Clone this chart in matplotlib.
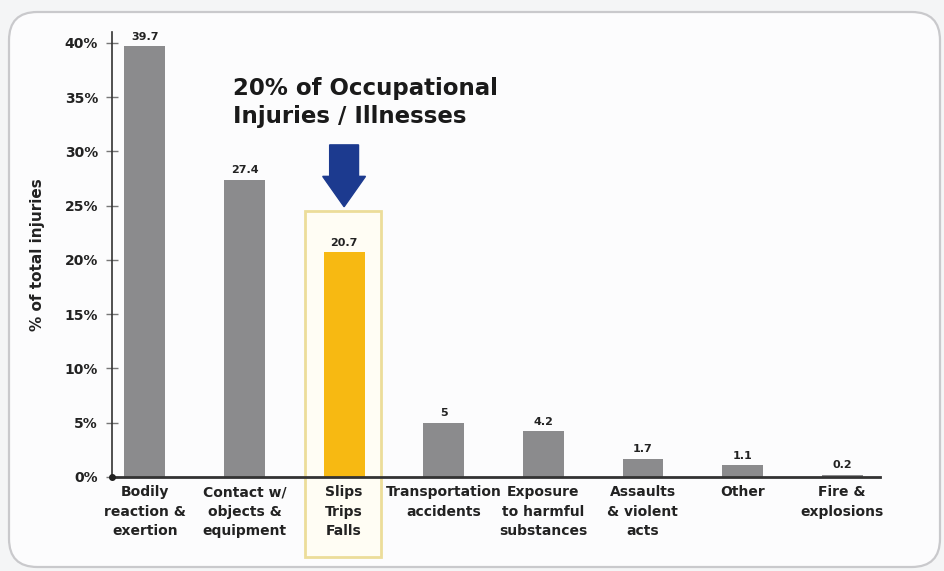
import numpy as np
import matplotlib.pyplot as plt
from matplotlib.patches import FancyBboxPatch, Rectangle, FancyArrow

categories = ["Bodily\nreaction &\nexertion", "Contact w/\nobjects &\nequipment",
              "Slips\nTrips\nFalls", "Transportation\naccidents",
              "Exposure\nto harmful\nsubstances", "Assaults\n& violent\nacts",
              "Other", "Fire &\nexplosions"]
values = [39.7, 27.4, 20.7, 5, 4.2, 1.7, 1.1, 0.2]
value_labels = ["39.7", "27.4", "20.7", "5", "4.2", "1.7", "1.1", "0.2"]
yticks = [0, 5, 10, 15, 20, 25, 30, 35, 40]
highlight = 2

FONT = ["Liberation Sans Narrow", "DejaVu Sans Condensed", "DejaVu Sans"]
plt.rcParams["font.family"] = FONT

fig = plt.figure(figsize=(9.44, 5.71), dpi=100)
fig.patch.set_facecolor("#f4f5f6")

# card background
card = FancyBboxPatch((9/944, 4/571), 931/944, 555/571,
                      boxstyle="round,pad=0,rounding_size=0.03",
                      transform=fig.transFigure, facecolor="#fcfcfd",
                      edgecolor="#c9c9cc", linewidth=1.6, zorder=-5,
                      mutation_aspect=944/571)
fig.patches.append(card)

ax = fig.add_axes([112/944, 94/571, 768/944, 445/571])
ax.set_facecolor("none")

x = np.arange(len(values))
colors = ["#8b8b8d"] * len(values)
colors[highlight] = "#f7b912"
ax.bar(x, values, width=0.41, color=colors, zorder=3)

for xi, v, lab in zip(x, values, value_labels):
    ax.text(xi, v + 0.4, lab, ha="center", va="bottom", fontsize=8,
            fontweight="bold", color="#222222", zorder=4)

# highlight box around Slips/Trips/Falls
box = Rectangle((1.61, -7.4), 0.76, 31.9, facecolor="#fffdf4",
                edgecolor="#ecdd9a", linewidth=2.0, clip_on=False, zorder=1)
ax.add_patch(box)

# arrow
arr = FancyArrow(highlight, 30.6, 0, -5.7, width=0.29, head_width=0.43,
                 head_length=2.8, length_includes_head=True,
                 color="#1c3a8f", clip_on=False, zorder=5)
ax.add_patch(arr)

ax.text(0.88, 34.5, "20% of Occupational\nInjuries / Illnesses", ha="left",
        va="center", fontsize=16.5, fontweight="bold", color="#1a1a1a",
        family=["DejaVu Sans"], linespacing=1.3)

ax.set_xlim(-0.33, 7.38)
ax.set_ylim(0, 41)
ax.set_yticks(yticks)
ax.set_yticklabels([f"{t}%" for t in yticks], fontsize=10, fontweight="bold",
                   color="#222222")
ax.set_xticks(x)
ax.set_xticklabels(categories, fontsize=10, fontweight="bold", color="#222222",
                   linespacing=1.5)
ax.tick_params(axis="x", length=0, pad=6)
ax.tick_params(axis="y", direction="inout", length=8, width=1, color="#777777", pad=6)

for s in ["top", "right"]:
    ax.spines[s].set_visible(False)
ax.spines["left"].set_color("#333333")
ax.spines["left"].set_linewidth(1.2)
ax.spines["bottom"].set_color("#333333")
ax.spines["bottom"].set_linewidth(2.0)
ax.spines["bottom"].set_zorder(6)
ax.plot([-0.33], [0], "o", color="#222222", ms=4, clip_on=False, zorder=7)

ax.set_ylabel("% of total injuries", fontsize=11, fontweight="bold",
              color="#222222", labelpad=14)

fig.savefig("out.png", dpi=100, facecolor=fig.get_facecolor())
